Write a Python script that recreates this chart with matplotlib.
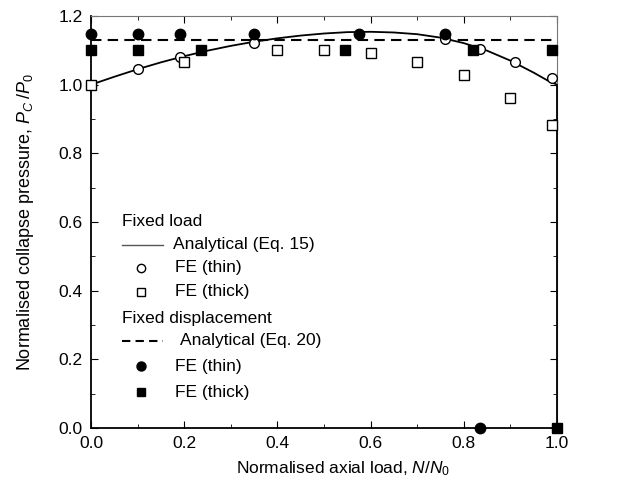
import matplotlib
matplotlib.use("Agg")
import matplotlib.pyplot as plt
from matplotlib.lines import Line2D
from matplotlib.ticker import MultipleLocator, FormatStrFormatter

plt.rcParams['font.family'] = ['Liberation Sans', 'DejaVu Sans']
plt.rcParams['mathtext.fontset'] = 'custom'
plt.rcParams['mathtext.rm'] = 'Liberation Sans'
plt.rcParams['mathtext.it'] = 'Liberation Sans:italic'

# Analytical, fixed load (Eq. 15)
ana15_x = [0.0, 0.05, 0.1, 0.15, 0.2, 0.25, 0.3, 0.35, 0.4, 0.45, 0.5, 0.55, 0.6, 0.65, 0.7, 0.75, 0.8, 0.85, 0.9, 0.95, 0.98, 1.0, 1.0]
ana15_y = [1.0, 1.023, 1.045, 1.065, 1.083, 1.099, 1.113, 1.125, 1.135, 1.143, 1.149, 1.153, 1.154, 1.152, 1.147, 1.137, 1.121, 1.099, 1.07, 1.035, 1.012, 1.0, 0.0]

# Analytical, fixed displacement (Eq. 20)
ana20_x = [0.0, 1.0]
ana20_y = [1.13, 1.13]

# FE fixed load
fl_thin_x = [0.0, 0.1, 0.19, 0.35, 0.76, 0.835, 0.91, 0.99]
fl_thin_y = [1.0, 1.045, 1.08, 1.122, 1.133, 1.105, 1.067, 1.02]
fl_thick_x = [0.0, 0.2, 0.4, 0.5, 0.6, 0.7, 0.8, 0.9, 0.99]
fl_thick_y = [1.0, 1.065, 1.10, 1.102, 1.092, 1.067, 1.027, 0.962, 0.882]

# FE fixed displacement
fd_thin_x = [0.0, 0.1, 0.19, 0.35, 0.575, 0.76, 0.835]
fd_thin_y = [1.148, 1.148, 1.148, 1.148, 1.148, 1.148, 0.0]
fd_thick_x = [0.0, 0.1, 0.235, 0.545, 0.82, 0.99, 1.0]
fd_thick_y = [1.10, 1.10, 1.10, 1.10, 1.10, 1.10, 0.0]

fig = plt.figure(figsize=(6.30, 4.99), dpi=100)
ax = fig.add_axes([91/630, 1-428/499, 466/630, 412/499])

ax.plot(ana15_x, ana15_y, color='black', lw=1.3, zorder=3, clip_on=False)
ax.plot(ana20_x, ana20_y, color='black', lw=1.5, ls=(0, (5, 3)), zorder=3, clip_on=False)
ax.plot(fl_thin_x, fl_thin_y, ls='none', marker='o', ms=7, mfc='white', mec='black', mew=1.0, zorder=4, clip_on=False)
ax.plot(fl_thick_x, fl_thick_y, ls='none', marker='s', ms=7, mfc='white', mec='black', mew=1.0, zorder=4, clip_on=False)
ax.plot(fd_thin_x, fd_thin_y, ls='none', marker='o', ms=7.5, mfc='black', mec='black', zorder=5, clip_on=False)
ax.plot(fd_thick_x, fd_thick_y, ls='none', marker='s', ms=7, mfc='black', mec='black', zorder=5, clip_on=False)

ax.set_xlim(0, 1.0)
ax.set_ylim(0, 1.2)
ax.xaxis.set_major_locator(MultipleLocator(0.2))
ax.xaxis.set_minor_locator(MultipleLocator(0.1))
ax.yaxis.set_major_locator(MultipleLocator(0.2))
ax.yaxis.set_minor_locator(MultipleLocator(0.1))
ax.xaxis.set_major_formatter(FormatStrFormatter('%.1f'))
ax.yaxis.set_major_formatter(FormatStrFormatter('%.1f'))
ax.tick_params(which='both', direction='in', top=True, right=True, labelsize=12.5, color='black')
ax.tick_params(which='major', length=5, pad=6)
ax.tick_params(which='minor', length=3)
for s in ['left', 'bottom']:
    ax.spines[s].set_linewidth(1.3)
    ax.spines[s].set_color('black')
for s in ['top', 'right']:
    ax.spines[s].set_linewidth(0.8)
    ax.spines[s].set_color('#777777')

ax.set_xlabel('Normalised axial load, $\\mathit{N/N}_{\\mathregular{0}}$', fontsize=12.5)
ax.xaxis.set_label_coords(0.54, -0.077)
ax.set_ylabel('Normalised collapse pressure, $\\mathit{P}_{\\mathit{C}}\\;/\\mathit{P}_{\\mathregular{0}}$', fontsize=13, labelpad=16)

# Legend drawn manually
def fx(px):
    return (px - 91) / 466
def fy(py):
    return (428 - py) / 412

fs = 12.5
ax.text(fx(122), fy(222), 'Fixed load', fontsize=fs, va='center', ha='left', transform=ax.transAxes)
ax.add_line(Line2D([fx(122), fx(163)], [fy(245), fy(245)], color='#555555', lw=1.0, transform=ax.transAxes))
ax.text(fx(173), fy(245), 'Analytical (Eq. 15)', fontsize=fs, va='center', ha='left', transform=ax.transAxes)
ax.add_line(Line2D([fx(141)], [fy(268)], ls='none', marker='o', ms=6, mfc='white', mec='black', mew=1.0, transform=ax.transAxes))
ax.text(fx(175), fy(268), 'FE (thin)', fontsize=fs, va='center', ha='left', transform=ax.transAxes)
ax.add_line(Line2D([fx(141)], [fy(292)], ls='none', marker='s', ms=6, mfc='white', mec='black', mew=1.0, transform=ax.transAxes))
ax.text(fx(175), fy(292), 'FE (thick)', fontsize=fs, va='center', ha='left', transform=ax.transAxes)
ax.text(fx(122), fy(318), 'Fixed displacement', fontsize=fs, va='center', ha='left', transform=ax.transAxes)
ax.add_line(Line2D([fx(122), fx(163)], [fy(341), fy(341)], color='black', lw=1.5, ls=(0, (4, 2.5)), transform=ax.transAxes))
ax.text(fx(180), fy(341), 'Analytical (Eq. 20)', fontsize=fs, va='center', ha='left', transform=ax.transAxes)
ax.add_line(Line2D([fx(141)], [fy(366)], ls='none', marker='o', ms=6.5, mfc='black', mec='black', transform=ax.transAxes))
ax.text(fx(175), fy(366), 'FE (thin)', fontsize=fs, va='center', ha='left', transform=ax.transAxes)
ax.add_line(Line2D([fx(141)], [fy(392)], ls='none', marker='s', ms=6, mfc='black', mec='black', transform=ax.transAxes))
ax.text(fx(175), fy(392), 'FE (thick)', fontsize=fs, va='center', ha='left', transform=ax.transAxes)

fig.savefig('out.png', dpi=100)
